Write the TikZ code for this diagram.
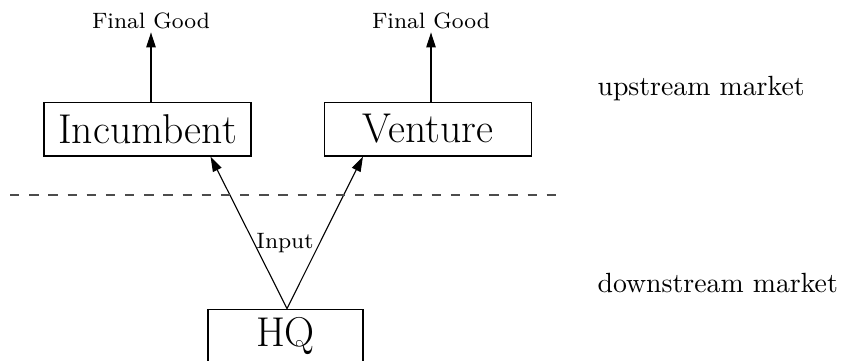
\documentclass[tikz,border=0pt]{standalone}
\usepackage{fontspec}
\usepackage{tikz}
\usetikzlibrary{arrows.meta,calc}

\begin{document}
\begin{tikzpicture}[x=0.36pt,y=-0.36pt,>={Triangle[length=5.4pt,width=3.4pt]},
    firm/.style={draw,thin,minimum width=74.5pt,minimum height=19.4pt,inner sep=2pt,font=\fontsize{15}{18}\selectfont},
    good/.style={font=\footnotesize,inner sep=1pt},
    market/.style={anchor=west,inner sep=0pt}]
    \useasboundingbox (0,0) rectangle (842,360);

    \node[firm]   (I)    at (147.5,129) {Incumbent};
    \node[firm]   (V)    at (428,129)   {Venture};
    \node[firm,minimum width=55.8pt] (H) at (285.5,336) {HQ};
    \node[good]   (FI)   at (151,21)    {Final Good};
    \node[good]   (FV)   at (431,21)    {Final Good};
    \node[good]   (In)   at (285,243)   {Input};
    \node[market] (up)   at (597,89)    {upstream market};
    \node[market] (down) at (597,283)   {downstream market};
    \coordinate (dl) at (10,195);
    \coordinate (dr) at (557,195);

    \draw[->] (I.north -| FI) -- (FI);
    \draw[->] (V.north -| FV) -- (FV);
    \draw[->] ($(H.north)+(1.5,0)$) -- ($(I.south east)+(-41,0)$);
    \draw[->] ($(H.north)+(1.5,0)$) -- ($(V.south west)+(39,0)$);
    \draw[black!70,dash pattern=on 3.4pt off 3.5pt] (dl) -- (dr);

  \end{tikzpicture}
\end{document}
